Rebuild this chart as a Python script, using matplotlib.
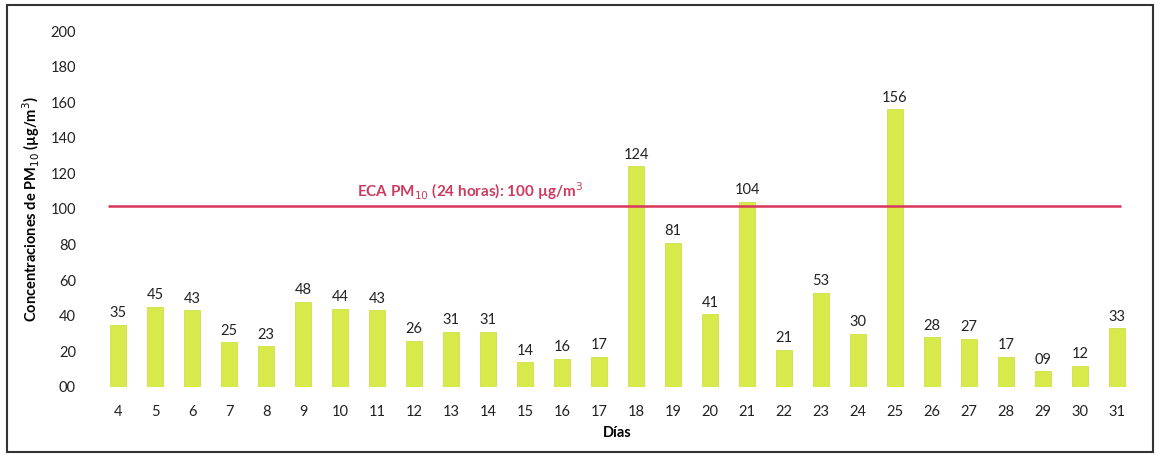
import matplotlib.pyplot as plt
from matplotlib.patches import Rectangle

plt.rcParams['font.family'] = ['Lato', 'DejaVu Sans']

# datos
dias = list(range(4, 32))
pm10 = [35, 45, 43, 25, 23, 48, 44, 43, 26, 31, 31, 14, 16, 17, 124,
        81, 41, 104, 21, 53, 30, 156, 28, 27, 17, 9, 12, 33]
eca = 100
eca_linea = 101.5  # la linea en el original queda un poco sobre 100

fig = plt.figure(figsize=(11.58, 4.54), dpi=100)
ax = fig.add_axes([0.086, 0.1476, 0.8946, 0.7841])

ax.bar(dias, pm10, width=0.43, color='#d8e94c', edgecolor='#cfe046', linewidth=0.6, zorder=2)
for d, v in zip(dias, pm10):
    ax.text(d, v + 2.5, f"{v:02d}", ha='center', va='bottom', fontsize=10.5, color='#222222')

ax.hlines(eca_linea, 3.73, 31.1, color='#d9345c', linewidth=1.8, zorder=3)
ax.text(13.5, eca_linea + 2.5, f"ECA PM$_{{10}}$ (24 horas): {eca} µg/m$^3$",
        ha='center', va='bottom', fontsize=11, fontweight='bold', color='#cc3a5e')

ax.set_xlim(3.5, 31.5)
ax.set_ylim(0, 200)
ax.set_yticks(range(0, 201, 20))
ax.set_yticklabels([f"{t:02d}" for t in range(0, 201, 20)])
ax.set_xticks(dias)
ax.set_xticklabels([str(d) for d in dias])
ax.tick_params(length=0, labelsize=10.5, colors='#222222')
ax.tick_params(axis='x', pad=13)
ax.tick_params(axis='y', pad=17)
for s in ax.spines.values():
    s.set_visible(False)

ax.set_ylabel("Concentraciones de PM$_{10}$ (µg/m$^3$)", fontsize=10.5, fontweight='bold', labelpad=6)
ax.set_xlabel("Días", fontsize=10.5, fontweight='bold', labelpad=5)

fig.patches.append(Rectangle((0.006, 0.004), 0.99, 0.985, transform=fig.transFigure,
                             fill=False, edgecolor='#333333', linewidth=1.5))

fig.savefig("out.png", dpi=100)
